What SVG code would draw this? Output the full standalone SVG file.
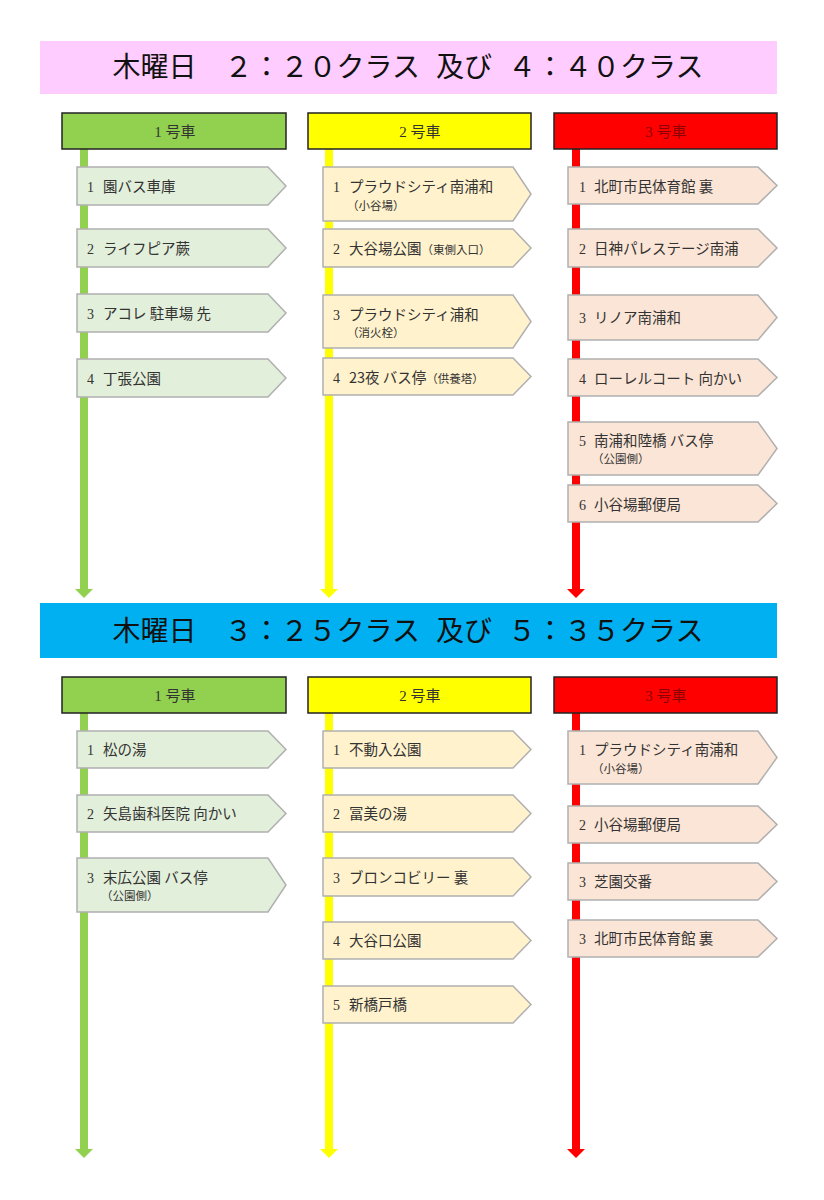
<svg xmlns="http://www.w3.org/2000/svg" width="824" height="1200" viewBox="0 0 824 1200">
<style>
text{font-family:"Noto Sans CJK JP","Noto Sans",sans-serif;fill:#333}
.ban{font-size:28px;fill:#111;text-anchor:middle}
.hd{font-size:15px;text-anchor:middle;fill:#333}
.hdr{fill:#8B0000}
.num{font-family:"Liberation Serif","Noto Sans CJK JP",serif;font-size:14px}
.nm{font-size:14.5px}
.sm{font-size:11.5px}
.g{fill:#E2EFDA;stroke:#B0B0B0;stroke-width:1.5}
.y{fill:#FFF2CC;stroke:#B0B0B0;stroke-width:1.5}
.r{fill:#FBE5D6;stroke:#B0B0B0;stroke-width:1.5}
.hbox{stroke:#222;stroke-width:1.5}
.ln{stroke-width:8;fill:none}
</style>
<defs>
<marker id="ag" markerUnits="userSpaceOnUse" viewBox="0 -9 9 18" markerWidth="9" markerHeight="18" refX="0" refY="0" orient="auto"><path d="M0,-9 L9,0 L0,9 z" fill="#92D050"/></marker>
<marker id="ay" markerUnits="userSpaceOnUse" viewBox="0 -9 9 18" markerWidth="9" markerHeight="18" refX="0" refY="0" orient="auto"><path d="M0,-9 L9,0 L0,9 z" fill="#FFFF00"/></marker>
<marker id="ar" markerUnits="userSpaceOnUse" viewBox="0 -9 9 18" markerWidth="9" markerHeight="18" refX="0" refY="0" orient="auto"><path d="M0,-9 L9,0 L0,9 z" fill="#FF0000"/></marker>
</defs>
<rect width="824" height="1200" fill="#fff"/>

<g id="connectors">
<line class="ln" x1="84" y1="149" x2="84" y2="589" stroke="#92D050" marker-end="url(#ag)"/>
<line class="ln" x1="329" y1="149" x2="329" y2="589" stroke="#FFFF00" marker-end="url(#ay)"/>
<line class="ln" x1="576" y1="149" x2="576" y2="589" stroke="#FF0000" marker-end="url(#ar)"/>
<line class="ln" x1="84" y1="713" x2="84" y2="1149" stroke="#92D050" marker-end="url(#ag)"/>
<line class="ln" x1="329" y1="713" x2="329" y2="1149" stroke="#FFFF00" marker-end="url(#ay)"/>
<line class="ln" x1="576" y1="713" x2="576" y2="1149" stroke="#FF0000" marker-end="url(#ar)"/>
</g>

<g id="banner1">
<rect x="40" y="41" width="737" height="53" fill="#FFCCFF"/>
<text class="ban" x="408" y="77">木曜日　２：２０クラス<tspan dx="16">及び</tspan><tspan dx="16">４：４０クラス</tspan></text>
</g>
<g id="banner2">
<rect x="40" y="603" width="737" height="55" fill="#00B0F0"/>
<text class="ban" x="408" y="641">木曜日　３：２５クラス<tspan dx="16">及び</tspan><tspan dx="16">５：３５クラス</tspan></text>
</g>

<g id="hd1a"><rect class="hbox" x="62" y="113" width="224" height="36" fill="#92D050"/><text class="hd" x="175" y="137"><tspan font-family="Liberation Serif">1 </tspan>号車</text></g>
<g id="hd2a"><rect class="hbox" x="308" y="113" width="223" height="36" fill="#FFFF00"/><text class="hd" x="420" y="137"><tspan font-family="Liberation Serif">2 </tspan>号車</text></g>
<g id="hd3a"><rect class="hbox" x="554" y="113" width="223" height="36" fill="#FF0000"/><text class="hd hdr" x="666" y="137"><tspan font-family="Liberation Serif">3 </tspan>号車</text></g>
<g id="hd1b"><rect class="hbox" x="62" y="677" width="224" height="36" fill="#92D050"/><text class="hd" x="175" y="701"><tspan font-family="Liberation Serif">1 </tspan>号車</text></g>
<g id="hd2b"><rect class="hbox" x="308" y="677" width="223" height="36" fill="#FFFF00"/><text class="hd" x="420" y="701"><tspan font-family="Liberation Serif">2 </tspan>号車</text></g>
<g id="hd3b"><rect class="hbox" x="554" y="677" width="223" height="36" fill="#FF0000"/><text class="hd hdr" x="666" y="701"><tspan font-family="Liberation Serif">3 </tspan>号車</text></g>

<!-- top green -->
<g id="a1-1"><polygon class="g" points="77,167 268,167 286,186 268,205 77,205"/><text class="num" x="87" y="192">1</text><text class="nm" x="103" y="192">園バス車庫</text></g>
<g id="a1-2"><polygon class="g" points="77,229 268,229 286,248 268,267 77,267"/><text class="num" x="87" y="254">2</text><text class="nm" x="103" y="254">ライフピア蕨</text></g>
<g id="a1-3"><polygon class="g" points="77,294 268,294 286,313 268,332 77,332"/><text class="num" x="87" y="319">3</text><text class="nm" x="103" y="319">アコレ 駐車場 先</text></g>
<g id="a1-4"><polygon class="g" points="77,359 268,359 286,378 268,397 77,397"/><text class="num" x="87" y="384">4</text><text class="nm" x="103" y="384">丁張公園</text></g>

<!-- top yellow -->
<g id="a2-1"><polygon class="y" points="323,167 513,167 531,194 513,221 323,221"/><text class="num" x="333" y="192">1</text><text class="nm" x="349" y="192">プラウドシティ南浦和</text><text class="sm" x="347" y="210">（小谷場）</text></g>
<g id="a2-2"><polygon class="y" points="323,229 513,229 531,248 513,267 323,267"/><text class="num" x="333" y="254">2</text><text class="nm" x="349" y="254">大谷場公園<tspan class="sm">（東側入口）</tspan></text></g>
<g id="a2-3"><polygon class="y" points="323,295 513,295 531,321.5 513,348 323,348"/><text class="num" x="333" y="320">3</text><text class="nm" x="349" y="320">プラウドシティ浦和</text><text class="sm" x="347" y="337">（消火栓）</text></g>
<g id="a2-4"><polygon class="y" points="323,358 513,358 531,376.5 513,395 323,395"/><text class="num" x="333" y="383">4</text><text class="nm" x="349" y="383">23夜 バス停<tspan class="sm">（供養塔）</tspan></text></g>

<!-- top red -->
<g id="a3-1"><polygon class="r" points="568,167 758,167 777,185.5 758,204 568,204"/><text class="num" x="579" y="192">1</text><text class="nm" x="594" y="192">北町市民体育館 裏</text></g>
<g id="a3-2"><polygon class="r" points="568,229 758,229 777,248 758,267 568,267"/><text class="num" x="579" y="254">2</text><text class="nm" x="594" y="254">日神パレステージ南浦</text></g>
<g id="a3-3"><polygon class="r" points="568,295 758,295 777,317.5 758,340 568,340"/><text class="num" x="579" y="323">3</text><text class="nm" x="594" y="323">リノア南浦和</text></g>
<g id="a3-4"><polygon class="r" points="568,359 758,359 777,377.5 758,396 568,396"/><text class="num" x="579" y="384">4</text><text class="nm" x="594" y="384">ローレルコート 向かい</text></g>
<g id="a3-5"><polygon class="r" points="568,422 758,422 777,448.5 758,475 568,475"/><text class="num" x="579" y="446">5</text><text class="nm" x="594" y="446">南浦和陸橋 バス停</text><text class="sm" x="592" y="463">（公園側）</text></g>
<g id="a3-6"><polygon class="r" points="568,485 758,485 777,503.5 758,522 568,522"/><text class="num" x="579" y="510">6</text><text class="nm" x="594" y="510">小谷場郵便局</text></g>

<!-- bottom green -->
<g id="b1-1"><polygon class="g" points="77,731 268,731 286,749.5 268,768 77,768"/><text class="num" x="87" y="755">1</text><text class="nm" x="103" y="755">松の湯</text></g>
<g id="b1-2"><polygon class="g" points="77,795 268,795 286,813.5 268,832 77,832"/><text class="num" x="87" y="819">2</text><text class="nm" x="103" y="819">矢島歯科医院 向かい</text></g>
<g id="b1-3"><polygon class="g" points="77,858 268,858 286,885 268,912 77,912"/><text class="num" x="87" y="883">3</text><text class="nm" x="103" y="883">末広公園 バス停</text><text class="sm" x="101" y="900">（公園側）</text></g>

<!-- bottom yellow -->
<g id="b2-1"><polygon class="y" points="323,731 513,731 531,749.5 513,768 323,768"/><text class="num" x="333" y="755">1</text><text class="nm" x="349" y="755">不動入公園</text></g>
<g id="b2-2"><polygon class="y" points="323,795 513,795 531,813.5 513,832 323,832"/><text class="num" x="333" y="819">2</text><text class="nm" x="349" y="819">冨美の湯</text></g>
<g id="b2-3"><polygon class="y" points="323,858 513,858 531,877 513,896 323,896"/><text class="num" x="333" y="883">3</text><text class="nm" x="349" y="883">ブロンコビリー 裏</text></g>
<g id="b2-4"><polygon class="y" points="323,922 513,922 531,940.5 513,959 323,959"/><text class="num" x="333" y="946">4</text><text class="nm" x="349" y="946">大谷口公園</text></g>
<g id="b2-5"><polygon class="y" points="323,986 513,986 531,1004.5 513,1023 323,1023"/><text class="num" x="333" y="1010">5</text><text class="nm" x="349" y="1010">新橋戸橋</text></g>

<!-- bottom red -->
<g id="b3-1"><polygon class="r" points="568,731 758,731 777,757.5 758,784 568,784"/><text class="num" x="579" y="755">1</text><text class="nm" x="594" y="755">プラウドシティ南浦和</text><text class="sm" x="592" y="773">（小谷場）</text></g>
<g id="b3-2"><polygon class="r" points="568,806 758,806 777,824.5 758,843 568,843"/><text class="num" x="579" y="830">2</text><text class="nm" x="594" y="830">小谷場郵便局</text></g>
<g id="b3-3"><polygon class="r" points="568,863 758,863 777,881.5 758,900 568,900"/><text class="num" x="579" y="887">3</text><text class="nm" x="594" y="887">芝園交番</text></g>
<g id="b3-4"><polygon class="r" points="568,920 758,920 777,938.5 758,957 568,957"/><text class="num" x="579" y="944">3</text><text class="nm" x="594" y="944">北町市民体育館 裏</text></g>
</svg>
